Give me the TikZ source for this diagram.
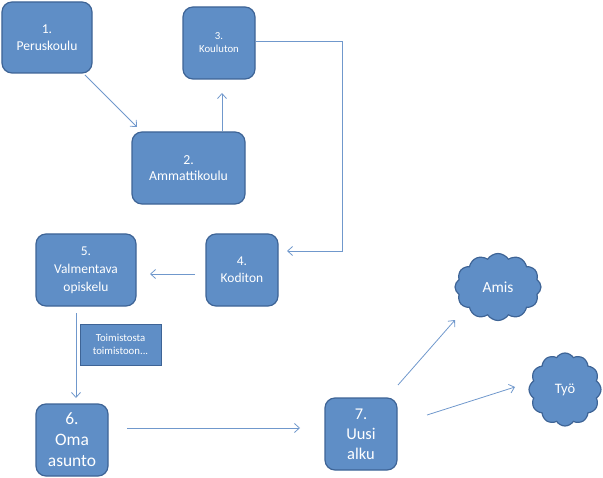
\documentclass[tikz,border=0pt]{standalone}
\usepackage{fontspec}
\setmainfont{Carlito}
\usetikzlibrary{shapes.symbols,arrows.meta}
\definecolor{boxfill}{RGB}{95,142,198}
\definecolor{boxline}{RGB}{62,100,150}
\definecolor{arr}{RGB}{112,152,204}
\tikzset{
  box/.style={draw=boxline, line width=1.2pt, fill=boxfill, rounded corners=10bp, text=white, align=center, inner sep=0pt},
  sqbox/.style={draw=boxline, line width=0.8pt, fill=boxfill, text=white, align=center, inner sep=0pt},
  cl/.style={cloud, cloud puffs=12, cloud puff arc=115, draw=boxline, line width=1.2pt, fill=boxfill, text=white, inner sep=0pt},
  conn/.style={draw=arr, line width=0.8pt, -{Straight Barb[length=5pt,width=9pt]}},
  plain/.style={draw=arr, line width=0.8pt}
}
\begin{document}
\begin{tikzpicture}[x=1bp,y=-1bp]
\useasboundingbox (0,0) rectangle (603,478);
\node[box, minimum width=90bp, minimum height=71bp, font=\fontsize{13.6}{16.5}\selectfont] (n1) at (47,37.5) {1.\\Peruskoulu};
\node[box, minimum width=72bp, minimum height=72bp, font=\fontsize{10.8}{13}\selectfont] (n3) at (219,43) {3.\\Kouluton};
\node[box, minimum width=113bp, minimum height=72bp, font=\fontsize{13.8}{16.5}\selectfont] (n2) at (188.5,168) {2.\\Ammattikoulu};
\node[box, minimum width=100bp, minimum height=72bp, font=\fontsize{13.5}{18}\selectfont] (n5) at (86,270) {5.\\Valmentava\\opiskelu};
\node[box, minimum width=72bp, minimum height=72bp, font=\fontsize{13.5}{17}\selectfont] (n4) at (242,270) {4.\\Koditon};
\node[sqbox, minimum width=81bp, minimum height=41bp, font=\fontsize{10.8}{13}\selectfont] (t) at (120.5,344.5) {Toimistosta\\toimistoon...};
\node[box, minimum width=72bp, minimum height=72bp, font=\fontsize{17.5}{21}\selectfont] (n6) at (72,440) {6.\\Oma\\asunto};
\node[box, minimum width=72bp, minimum height=72bp, font=\fontsize{16.5}{20}\selectfont] (n7) at (361,434) {7.\\Uusi\\alku};
\node[cl, minimum width=86bp, minimum height=67bp, font=\fontsize{15.5}{18}\selectfont] (amis) at (498,287) {Amis};
\node[cl, minimum width=72bp, minimum height=73bp, font=\fontsize{14.5}{18}\selectfont] (tyo) at (565,389.5) {Työ};

\coordinate (c1a) at (85,75);
\coordinate (c1b) at (137,127);
\draw[conn] (c1a) -- (c1b);
\coordinate (c2a) at (222,131);
\coordinate (c2b) at (222,93);
\draw[conn] (c2a) -- (c2b);
\coordinate (c3a) at (342,41);
\coordinate (c3b) at (342,251);
\coordinate (c3c) at (287,251);
\draw[conn] (n3.east |- c3a) -- (c3a) -- (c3b) -- (c3c);
\coordinate (c4a) at (195,274);
\coordinate (c4b) at (150,274);
\draw[conn] (c4a) -- (c4b);
\coordinate (c5a) at (76,313);
\coordinate (c5b) at (76,398);
\draw[conn] (c5a) -- (c5b);
\coordinate (c6a) at (127,428);
\coordinate (c6b) at (300,428);
\draw[conn] (c6a) -- (c6b);
\coordinate (c7a) at (398,385);
\coordinate (c7b) at (455,320);
\draw[conn] (c7a) -- (c7b);
\coordinate (c8a) at (427,415);
\coordinate (c8b) at (515,387);
\draw[conn] (c8a) -- (c8b);
\end{tikzpicture}
\end{document}
